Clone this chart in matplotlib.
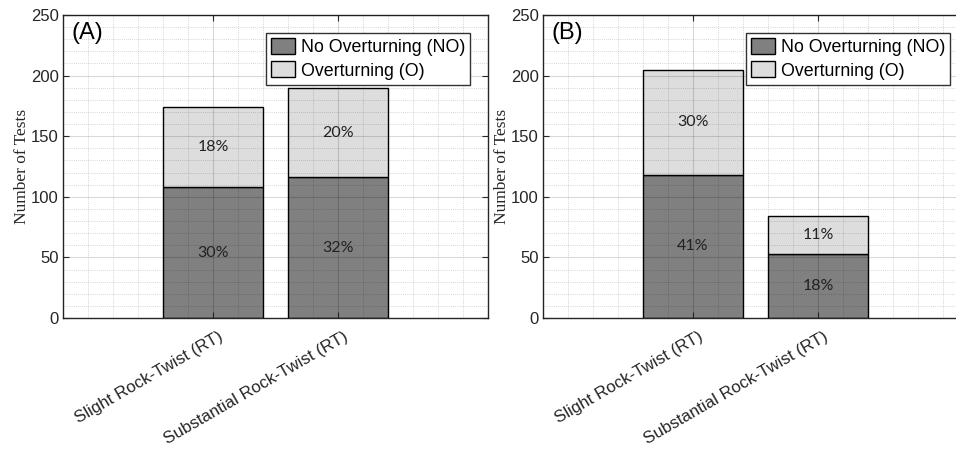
import matplotlib
matplotlib.use("Agg")
import matplotlib.pyplot as plt
import matplotlib.transforms as mtransforms
from matplotlib.ticker import MultipleLocator, FixedLocator

# data
categories = ["Slight Rock-Twist (RT)", "Substantial Rock-Twist (RT)"]
x_pos = [1, 2]

no_a = [108, 116]   # No Overturning, panel A
o_a = [66, 74]      # Overturning, panel A
no_b = [118, 53]    # No Overturning, panel B
o_b = [87, 31]      # Overturning, panel B

pct_no_a = ["30%", "32%"]
pct_o_a = ["18%", "20%"]
pct_no_b = ["41%", "18%"]
pct_o_b = ["30%", "11%"]

panel_tags = ["(A)", "(B)"]
legend_labels = ["No Overturning (NO)", "Overturning (O)"]

dark = "#808080"
light = "#dddddd"
axcol = "#262626"

plt.rcParams["font.family"] = ["Liberation Sans", "DejaVu Sans"]

fig = plt.figure(figsize=(9.56, 4.5), dpi=100)
ax_a = fig.add_axes([63 / 956, 132 / 450, 425 / 956, 303 / 450])
ax_b = fig.add_axes([543 / 956, 132 / 450, 425 / 956, 303 / 450])


def draw_panel(ax, no, o, pno, po, tag):
    b1 = ax.bar(x_pos, no, width=0.8, color=dark, edgecolor="black", linewidth=1, zorder=1)
    b2 = ax.bar(x_pos, o, width=0.8, bottom=no, color=light, edgecolor="black", linewidth=1, zorder=1)

    for xi, n, v, s1, s2 in zip(x_pos, no, o, pno, po):
        ax.text(xi, n / 2, s1, ha="center", va="center", fontsize=11.5,
                family=["Lato", "DejaVu Sans"], color="#222222", zorder=6)
        ax.text(xi, n + v / 2, s2, ha="center", va="center", fontsize=11.5,
                family=["Lato", "DejaVu Sans"], color="#222222", zorder=6)

    ax.set_xlim(-0.2, 3.2)
    ax.set_ylim(0, 250)
    ax.xaxis.set_major_locator(FixedLocator(x_pos))
    ax.xaxis.set_minor_locator(MultipleLocator(0.2))
    ax.yaxis.set_major_locator(MultipleLocator(50))
    ax.yaxis.set_minor_locator(MultipleLocator(10))

    ax.set_axisbelow(False)
    ax.grid(which="major", color="black", alpha=0.15, linewidth=0.8, linestyle="-")
    ax.grid(which="minor", color="black", alpha=0.22, linewidth=0.6, linestyle=(0, (1, 1.5)))

    ax.set_xticklabels(categories, rotation=30, ha="right", va="top",
                       rotation_mode="anchor", fontsize=12.2)
    ax.tick_params(which="major", direction="in", length=4, width=0.8,
                   top=True, right=True, colors=axcol, labelsize=12, pad=3)
    ax.tick_params(axis="x", which="major", pad=8, labelsize=12.2)
    ax.tick_params(which="minor", length=0)
    shift = mtransforms.ScaledTranslation(5 / 100, 0, fig.dpi_scale_trans)
    for lab in ax.get_xticklabels():
        lab.set_transform(lab.get_transform() + shift)

    for sp in ax.spines.values():
        sp.set_color(axcol)
        sp.set_linewidth(1.0)

    ax.set_ylabel("Number of Tests", family=["Liberation Serif", "DejaVu Serif"],
                  fontsize=12.5, color=axcol, labelpad=0.5)

    ax.text(0.02, 0.94, tag, transform=ax.transAxes, fontsize=17, va="center",
            ha="left", color="black", zorder=6)

    leg = ax.legend([b1, b2], legend_labels, loc="upper right", fontsize=12.8,
                    fancybox=False, framealpha=1, edgecolor="#333333",
                    borderaxespad=1.0, handlelength=1.35, handleheight=1.0,
                    handletextpad=0.3, labelspacing=0.3, borderpad=0.3)
    leg.get_frame().set_linewidth(1.0)
    leg.set_zorder(7)


draw_panel(ax_a, no_a, o_a, pct_no_a, pct_o_a, panel_tags[0])
draw_panel(ax_b, no_b, o_b, pct_no_b, pct_o_b, panel_tags[1])

fig.savefig("out.png", dpi=100)
